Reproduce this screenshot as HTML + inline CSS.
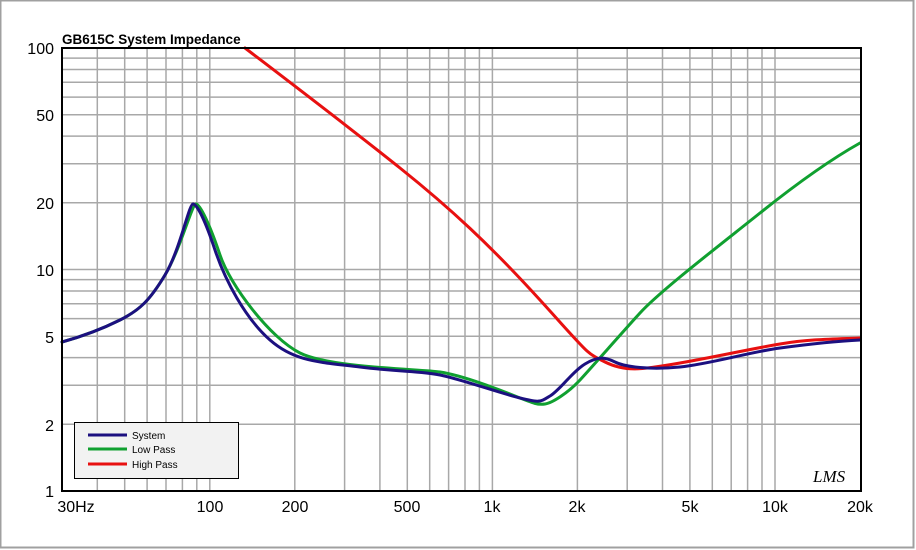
<!DOCTYPE html>
<html><head><meta charset="utf-8"><style>
body{margin:0;background:#fff;}
svg{display:block;font-family:"Liberation Sans",Arial,sans-serif;}
</style></head><body>
<svg width="916" height="550" xmlns="http://www.w3.org/2000/svg">
<rect x="0.5" y="0.5" width="913" height="547" fill="#fff" stroke="#a0a0a0" stroke-width="2"/>
<g stroke="#a8a8a8" stroke-width="1.5">
<line x1="97.3" y1="48" x2="97.3" y2="491"/><line x1="124.7" y1="48" x2="124.7" y2="491"/><line x1="147.1" y1="48" x2="147.1" y2="491"/><line x1="166" y1="48" x2="166" y2="491"/><line x1="182.4" y1="48" x2="182.4" y2="491"/><line x1="196.8" y1="48" x2="196.8" y2="491"/><line x1="209.8" y1="48" x2="209.8" y2="491"/>
<line x1="294.8" y1="48" x2="294.8" y2="491"/><line x1="344.6" y1="48" x2="344.6" y2="491"/><line x1="379.9" y1="48" x2="379.9" y2="491"/><line x1="407.3" y1="48" x2="407.3" y2="491"/><line x1="429.7" y1="48" x2="429.7" y2="491"/><line x1="448.6" y1="48" x2="448.6" y2="491"/><line x1="465" y1="48" x2="465" y2="491"/><line x1="479.4" y1="48" x2="479.4" y2="491"/><line x1="492.4" y1="48" x2="492.4" y2="491"/>
<line x1="577.4" y1="48" x2="577.4" y2="491"/><line x1="627.2" y1="48" x2="627.2" y2="491"/><line x1="662.5" y1="48" x2="662.5" y2="491"/><line x1="689.9" y1="48" x2="689.9" y2="491"/><line x1="712.3" y1="48" x2="712.3" y2="491"/><line x1="731.2" y1="48" x2="731.2" y2="491"/><line x1="747.6" y1="48" x2="747.6" y2="491"/><line x1="762" y1="48" x2="762" y2="491"/><line x1="775" y1="48" x2="775" y2="491"/>
<line x1="62" y1="424.3" x2="861" y2="424.3"/><line x1="62" y1="385.3" x2="861" y2="385.3"/><line x1="62" y1="357.6" x2="861" y2="357.6"/><line x1="62" y1="336.2" x2="861" y2="336.2"/><line x1="62" y1="318.6" x2="861" y2="318.6"/><line x1="62" y1="303.8" x2="861" y2="303.8"/><line x1="62" y1="291" x2="861" y2="291"/><line x1="62" y1="279.6" x2="861" y2="279.6"/><line x1="62" y1="269.5" x2="861" y2="269.5"/>
<line x1="62" y1="202.8" x2="861" y2="202.8"/><line x1="62" y1="163.8" x2="861" y2="163.8"/><line x1="62" y1="136.1" x2="861" y2="136.1"/><line x1="62" y1="114.7" x2="861" y2="114.7"/><line x1="62" y1="97.1" x2="861" y2="97.1"/><line x1="62" y1="82.3" x2="861" y2="82.3"/><line x1="62" y1="69.5" x2="861" y2="69.5"/><line x1="62" y1="58.1" x2="861" y2="58.1"/>
</g>
<text x="62" y="44" font-size="13.5" font-weight="bold">GB615C System Impedance</text>
<g font-size="16" text-anchor="end">
<text x="54" y="54">100</text><text x="54" y="121">50</text><text x="54" y="209">20</text>
<text x="54" y="276">10</text><text x="54" y="343">5</text><text x="54" y="431">2</text><text x="54" y="497">1</text>
</g>
<g font-size="16" text-anchor="middle">
<text x="76" y="512">30Hz</text><text x="210" y="512">100</text><text x="295" y="512">200</text>
<text x="407" y="512">500</text><text x="492" y="512">1k</text><text x="577" y="512">2k</text>
<text x="690" y="512">5k</text><text x="775" y="512">10k</text><text x="860" y="512">20k</text>
</g>
<g fill="none" stroke-width="3" stroke-linejoin="round" stroke-linecap="round">
<path stroke="#e81010" d="M245,48 C300,90 350,128 400,168 S490,245 540,300 S585,352 605,362 S640,370 680,363 S750,349 780,344 S835,339 860,338"/>
<path stroke="#10a030" d="M62,342 C80,337 100,330 120,320 S150,300 165,275 S192,204 196,204 S210,225 220,255 S270,338 300,353 S420,369 440,372 S495,388 515,396 S538,405 545,404 S568,393 580,380 S620,335 640,313 S720,245 760,213 S835,157 860,143"/>
<path stroke="#1c1080" d="M62,342 C80,337 100,330 120,320 S150,300 165,275 S189,204 193,204 S205,220 215,250 S245,318 270,340 S320,362 360,367 S420,371 440,375 S500,393 520,398 S540,402 550,396 S572,372 585,364 S605,357 615,362 S650,370 680,367 S750,352 780,348 S840,341 860,340"/>
</g>
<rect x="62" y="48" width="799" height="443" fill="none" stroke="#000" stroke-width="2"/>
<rect x="74.5" y="422.5" width="164" height="56" fill="#f2f2f2" stroke="#000" stroke-width="1"/>
<g stroke-width="3"><line x1="88" y1="435" x2="127" y2="435" stroke="#1c1080"/><line x1="88" y1="449" x2="127" y2="449" stroke="#10a030"/><line x1="88" y1="464" x2="127" y2="464" stroke="#e81010"/></g>
<g font-size="10"><text x="132" y="439">System</text><text x="132" y="453">Low Pass</text><text x="132" y="468">High Pass</text></g>
<text x="813" y="482" font-size="17" font-style="italic" font-family="Liberation Serif,serif">LMS</text>
</svg>
</body></html>
